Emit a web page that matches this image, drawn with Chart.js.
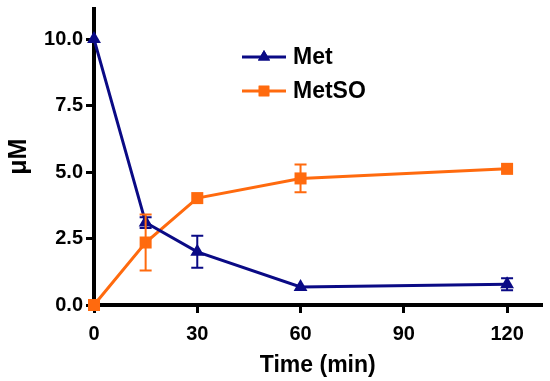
<!DOCTYPE html>
<html>
<head>
<meta charset="utf-8">
<script src="https://cdn.jsdelivr.net/npm/chart.js@4.4.1/dist/chart.umd.min.js"></script>
<style>
  html, body { margin: 0; padding: 0; background: #fff; }
  #wrap { width: 550px; height: 381px; }
</style>
</head>
<body>
<div id="wrap"><canvas id="chart"></canvas></div>
<script>
// values
const timePoints = [0, 15, 30, 60, 120];
const metValues = [10.0, 3.1, 2.0, 0.68, 0.78];
const metErrors = [0, 0.2, 0.6, 0, 0.23];
const metsoValues = [0, 2.35, 4.02, 4.76, 5.12];
const metsoErrors = [0, 1.05, 0, 0.52, 0];
const xTicks = [0, 30, 60, 90, 120];
const yTicks = [0, 2.5, 5, 7.5, 10];

const MET_COLOR = "#0a0a85";
const METSO_COLOR = "#ff6a0e";
const FONT = "'Liberation Sans', Arial, sans-serif";

function toPoints(values){
  return values.map((v, i) => ({x: timePoints[i], y: v}));
}

// error bars: drawn from the per-dataset errors array
const errorBars = {
  id: "errorBars",
  afterDatasetsDraw(chart){
    const ctx = chart.ctx;
    const xs = chart.scales.x, ys = chart.scales.y;
    chart.data.datasets.forEach((ds) => {
      ctx.save();
      ctx.strokeStyle = ds.borderColor;
      ctx.lineWidth = 2;
      ds.errors.forEach((e, i) => {
        if (!e) return;
        const px = xs.getPixelForValue(ds.data[i].x);
        const top = ys.getPixelForValue(ds.data[i].y + e);
        const bot = ys.getPixelForValue(ds.data[i].y - e);
        ctx.beginPath();
        ctx.moveTo(px, top); ctx.lineTo(px, bot);
        ctx.moveTo(px - 6, top); ctx.lineTo(px + 6, top);
        ctx.moveTo(px - 6, bot); ctx.lineTo(px + 6, bot);
        ctx.stroke();
      });
      ctx.restore();
    });
  }
};

// legend inside the plot: line with marker, then bold label
const insideLegend = {
  id: "insideLegend",
  afterDraw(chart){
    const ctx = chart.ctx;
    const x0 = 242, x1 = 286, tx = 293;
    const rows = [57, 91];
    chart.data.datasets.forEach((ds, i) => {
      const y = rows[i];
      ctx.save();
      ctx.strokeStyle = ds.borderColor;
      ctx.lineWidth = 3;
      ctx.beginPath();
      ctx.moveTo(x0, y); ctx.lineTo(x1, y);
      ctx.stroke();
      ctx.fillStyle = ds.borderColor;
      Chart.helpers.drawPoint(ctx, {pointStyle: ds.pointStyle, radius: ds.pointRadius - 1, rotation: 0, borderWidth: 0}, (x0 + x1) / 2, y);
      ctx.fill();
      ctx.fillStyle = "#000";
      ctx.font = "bold 23px " + FONT;
      ctx.textBaseline = "middle";
      ctx.fillText(ds.label, tx, y + 1);
      ctx.restore();
    });
  }
};

const tickFont = {family: FONT, size: 20, weight: "bold"};
const titleFont = {family: FONT, size: 23, weight: "bold"};

new Chart(document.getElementById("chart"), {
  type: "line",
  data: {
    datasets: [
      {
        label: "Met",
        data: toPoints(metValues),
        errors: metErrors,
        borderColor: MET_COLOR,
        backgroundColor: MET_COLOR,
        borderWidth: 3,
        pointStyle: "triangle",
        pointRadius: 8,
        pointBorderWidth: 0,
        tension: 0,
        clip: false
      },
      {
        label: "MetSO",
        data: toPoints(metsoValues),
        errors: metsoErrors,
        borderColor: METSO_COLOR,
        backgroundColor: METSO_COLOR,
        borderWidth: 3,
        pointStyle: "rect",
        pointRadius: 8.5,
        pointBorderWidth: 0,
        tension: 0,
        clip: false
      }
    ]
  },
  options: {
    responsive: true,
    maintainAspectRatio: false,
    animation: false,
    layout: {padding: {left: 4, top: 3, right: 7, bottom: 0}},
    plugins: {legend: {display: false}, tooltip: {enabled: false}},
    scales: {
      x: {
        type: "linear",
        min: 0,
        max: 130,
        afterBuildTicks: (s) => { s.ticks = xTicks.map(v => ({value: v})); },
        afterFit: (s) => { s.height = 76; s.paddingLeft = 0; s.paddingRight = 0; },
        grid: {display: true, drawOnChartArea: false, drawTicks: true, tickLength: 8, color: "#000", lineWidth: 3},
        border: {display: true, color: "#000", width: 4},
        ticks: {color: "#000", font: tickFont, padding: 9, maxRotation: 0},
        title: {display: true, text: "Time (min)", color: "#000", font: titleFont, padding: {top: 4, bottom: 2}}
      },
      y: {
        type: "linear",
        min: 0,
        max: 11.15,
        afterBuildTicks: (s) => { s.ticks = yTicks.map(v => ({value: v})); },
        afterFit: (s) => { s.width = 90; s.paddingTop = 0; s.paddingBottom = 0; },
        grid: {display: true, drawOnChartArea: false, drawTicks: true, tickLength: 8, color: "#000", lineWidth: 3},
        border: {display: true, color: "#000", width: 4},
        ticks: {color: "#000", font: tickFont, padding: 3, callback: (v) => v.toFixed(1)},
        title: {display: true, text: "\u03bcM", color: "#000", font: {family: FONT, size: 25, weight: "bold"}, padding: 0}
      }
    }
  },
  plugins: [errorBars, insideLegend]
});
</script>
</body>
</html>
